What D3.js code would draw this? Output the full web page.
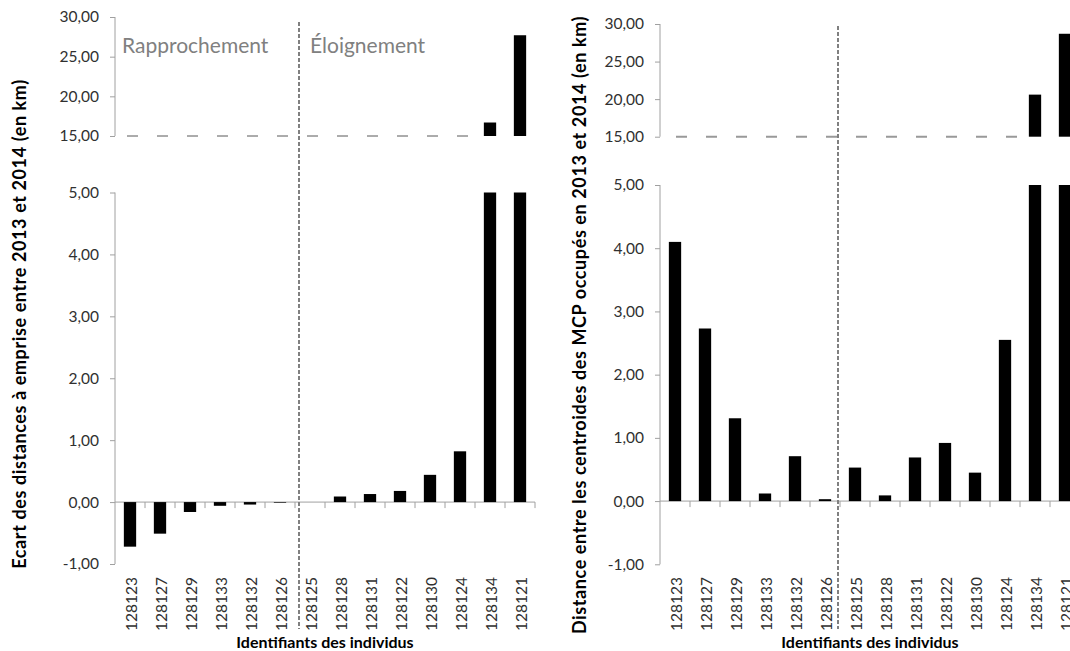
<!DOCTYPE html>
<html>
<head>
<meta charset="utf-8">
<script src="https://cdn.jsdelivr.net/npm/d3@7"></script>
<style>
  html, body { margin: 0; padding: 0; background: #fff; }
  svg { display: block; font-family: Lato, "Open Sans", sans-serif; }
</style>
</head>
<body>
<div id="chart"></div>
<script>
// individuals, same order in both panels
const individus = ['128123', '128127', '128129', '128133', '128132', '128126',
  '128125', '128128', '128131', '128122', '128130', '128124', '128134', '128121'];

// left panel: gap in distance to the right-of-way (km)
const ecartValues = [-0.72, -0.51, -0.16, -0.06, -0.04, -0.01,
  0.00, 0.09, 0.13, 0.18, 0.44, 0.82, 16.7, 27.7];

// right panel: distance between MCP centroids (km)
const centroidValues = [4.10, 2.73, 1.31, 0.12, 0.71, 0.03,
  0.53, 0.09, 0.69, 0.92, 0.45, 2.55, 20.6, 28.7];

const lowerTicks = [-1, 0, 1, 2, 3, 4, 5];
const upperTicks = [15, 20, 25, 30];
const lowerDomain = [-1, 5];
const upperDomain = [15, 30];

const width = 1070;
const height = 651;

const locale = d3.formatLocale({
  decimal: ',', thousands: ' ', grouping: [3], currency: ['', ' €'], minus: '-'
});
const fmt = locale.format('.2f');

const svg = d3.select('#chart')
  .append('svg')
  .attr('width', width)
  .attr('height', height);

const AXIS = '#a0a0a0';
const TICK_TEXT = '#303030';

function drawPanel(opts) {
  const g = svg.append('g');

  const x = d3.scaleBand()
    .domain(individus)
    .range([opts.left, opts.left + 30 * individus.length])
    .paddingInner(0.59)
    .paddingOuter(0.295);

  const yLow = d3.scaleLinear().domain(lowerDomain).range(opts.lowRange);
  const yUp = d3.scaleLinear().domain(upperDomain).range(opts.upRange);

  // dashed line marking the break at 15
  const firstBig = individus[opts.values.findIndex(v => v > upperDomain[0])];
  g.append('line')
    .attr('x1', opts.dashStart)
    .attr('x2', x(firstBig) - 1)
    .attr('y1', yUp(15))
    .attr('y2', yUp(15))
    .attr('stroke', opts.breakColor)
    .attr('stroke-width', opts.breakWidth)
    .attr('stroke-dasharray', '11,19');

  // upper axis
  const upAxis = g.append('g')
    .attr('transform', `translate(${opts.left},0)`)
    .call(d3.axisLeft(yUp).tickValues(upperTicks).tickFormat(fmt)
      .tickSize(5).tickPadding(11));

  // lower axis
  const lowAxis = g.append('g')
    .attr('transform', `translate(${opts.left},0)`)
    .call(d3.axisLeft(yLow).tickValues(lowerTicks).tickFormat(fmt)
      .tickSize(5).tickPadding(11));

  [upAxis, lowAxis].forEach(a => {
    a.select('.domain').remove();
    a.selectAll('.tick line').attr('stroke', AXIS);
    a.selectAll('.tick text')
      .attr('fill', TICK_TEXT)
      .attr('font-size', '15.5px')
      .attr('font-family', 'Lato, sans-serif');
  });

  g.append('line')
    .attr('x1', opts.left).attr('x2', opts.left)
    .attr('y1', yUp(30)).attr('y2', yUp(15))
    .attr('stroke', AXIS);
  g.append('line')
    .attr('x1', opts.left).attr('x2', opts.left)
    .attr('y1', yLow(5)).attr('y2', yLow(-1))
    .attr('stroke', AXIS);

  // category axis on zero
  const y0 = yLow(0);
  const right = opts.left + 30 * individus.length;
  g.append('line')
    .attr('x1', opts.left).attr('x2', right)
    .attr('y1', y0).attr('y2', y0)
    .attr('stroke', AXIS);
  g.append('g')
    .selectAll('line')
    .data(d3.range(1, individus.length + 1))
    .join('line')
    .attr('x1', i => opts.left + i * 30)
    .attr('x2', i => opts.left + i * 30)
    .attr('y1', y0)
    .attr('y2', y0 + 6)
    .attr('stroke', AXIS);

  // lower bars
  g.append('g')
    .selectAll('rect')
    .data(individus)
    .join('rect')
    .attr('x', (d) => x(d))
    .attr('width', x.bandwidth())
    .attr('y', (d, i) => {
      const v = Math.max(lowerDomain[0], Math.min(lowerDomain[1], opts.values[i]));
      return Math.min(yLow(v), y0);
    })
    .attr('height', (d, i) => {
      const v = Math.max(lowerDomain[0], Math.min(lowerDomain[1], opts.values[i]));
      return Math.abs(yLow(v) - y0);
    })
    .attr('fill', '#000');

  // upper bars (values above the break)
  const big = individus.filter((d, i) => opts.values[i] > upperDomain[0]);
  g.append('g')
    .selectAll('rect')
    .data(big)
    .join('rect')
    .attr('x', d => x(d))
    .attr('width', x.bandwidth())
    .attr('y', d => yUp(opts.values[individus.indexOf(d)]))
    .attr('height', d => yUp(15) - yUp(opts.values[individus.indexOf(d)]))
    .attr('fill', '#000');

  // category labels
  g.append('g')
    .selectAll('text')
    .data(individus)
    .join('text')
    .attr('transform', d => `translate(${x(d) + x.bandwidth() / 2 + 1},577) rotate(-90)`)
    .attr('text-anchor', 'end')
    .attr('dy', '0.36em')
    .attr('font-size', '15.5px')
    .attr('fill', TICK_TEXT)
    .text(d => d);

  // separator between approaching / moving away
  g.append('line')
    .attr('x1', opts.sepX).attr('x2', opts.sepX)
    .attr('y1', opts.sepTop).attr('y2', 629)
    .attr('stroke', '#808080')
    .attr('stroke-width', 2)
    .attr('stroke-dasharray', '4,2');

  // titles
  g.append('text')
    .attr('x', (opts.left + right) / 2)
    .attr('y', 648)
    .attr('text-anchor', 'middle')
    .attr('font-size', '16px')
    .attr('font-weight', 'bold')
    .attr('fill', '#000')
    .text('Identifiants des individus');

  g.append('text')
    .attr('transform', `translate(${opts.titleX},${opts.titleY}) rotate(-90)`)
    .attr('text-anchor', 'middle')
    .attr('dy', '0.35em')
    .attr('font-size', '18px')
    .attr('letter-spacing', '0.6px')
    .attr('font-weight', 'bold')
    .attr('fill', '#000')
    .text(opts.title);

  return { x, yUp };
}

drawPanel({
  left: 115,
  values: ecartValues,
  lowRange: [564, 192.5],
  upRange: [136, 17],
  dashStart: 127,
  breakColor: '#595959',
  breakWidth: 1,
  sepX: 299,
  sepTop: 22,
  titleX: 20,
  titleY: 324,
  title: 'Ecart des distances à emprise entre 2013 et 2014 (en km)'
});

drawPanel({
  left: 660,
  values: centroidValues,
  lowRange: [564.3, 185],
  upRange: [136.7, 24],
  dashStart: 676,
  breakColor: '#999999',
  breakWidth: 2,
  sepX: 838,
  sepTop: 26,
  titleX: 580,
  titleY: 325,
  title: 'Distance entre les centroides des MCP occupés en 2013 et 2014 (en km)'
});

// section labels on the left panel
svg.append('text')
  .attr('x', 122)
  .attr('y', 53)
  .attr('font-size', '21px')
  .attr('fill', '#808080')
  .text('Rapprochement');

svg.append('text')
  .attr('x', 310)
  .attr('y', 53)
  .attr('font-size', '21px')
  .attr('fill', '#808080')
  .text('Éloignement');
</script>
</body>
</html>
